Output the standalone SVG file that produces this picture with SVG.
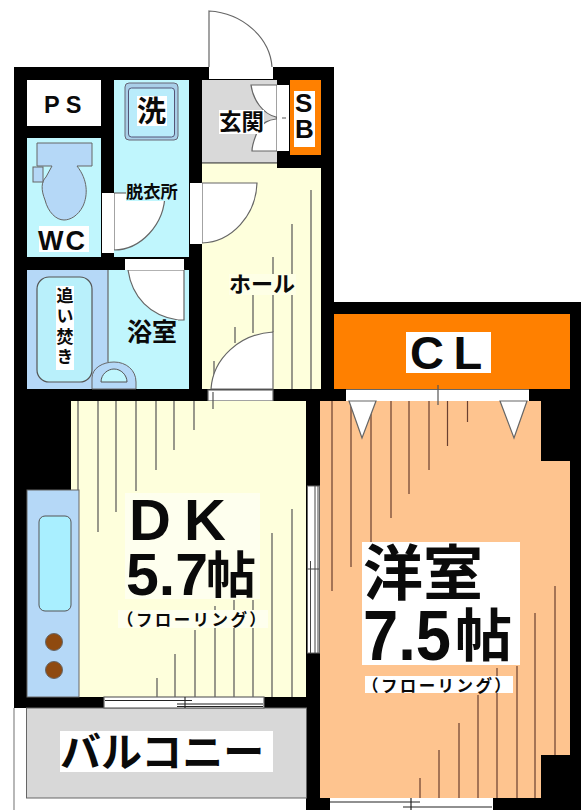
<svg xmlns="http://www.w3.org/2000/svg" width="581" height="810" viewBox="0 0 581 810">
<style>
text{font-family:"Liberation Sans","Noto Sans CJK JP",sans-serif;font-weight:700;fill:#0a0a0a}
.j{font-family:"Noto Sans CJK JP","Liberation Sans",sans-serif}
.s{font-size:16.500px;letter-spacing:2.400px}
.w{fill:#fff}.k{fill:#000}
.o{fill:none;stroke:#555;stroke-width:1.2}
.d{fill:#fff;stroke:#666;stroke-width:1.2}
.h{stroke:#555;stroke-width:1.2;fill:none}
.p{stroke:#6a4030;stroke-width:1.2;fill:none}
.b{fill:#b5d8f7;stroke:#666;stroke-width:1}
</style>
<rect width="581" height="810" fill="#fff"/>
<g id="walls">
<rect class="k" x="14" y="67" width="320" height="334"/>
<rect class="k" x="14" y="389" width="306" height="101"/>
<rect class="k" x="320" y="302" width="261" height="508"/>
<rect class="k" x="306" y="389" width="14" height="421"/>
<rect class="k" x="14" y="697" width="292" height="11"/>
<rect class="k" x="14" y="490" width="13" height="207"/>
<path d="M14 708V810" stroke="#888" stroke-width="1.2"/>
</g>
<g id="ps"><rect class="w" x="27" y="80" width="74" height="46"/><text x="44" y="113" font-size="23.500" letter-spacing="6">PS</text></g>
<g id="wc">
<rect x="27" y="138" width="74" height="119" fill="#c0f6fd"/>
<path class="b" d="M37 143H92V166H77C88 180 88 195 83 206C78 216 70 220 64 220C56 220 48 212 45 200C41 190 41 182 46 177L52 166H37Z"/>
<rect class="b" x="33" y="167" width="10" height="15"/>
<rect class="w" x="39" y="226" width="50" height="26"/>
<text x="38" y="250" font-size="27" letter-spacing="2">WC</text>
</g>
<g id="wash">
<rect x="114" y="80" width="75" height="177" fill="#c0f6fd"/>
<rect x="125" y="83" width="53" height="57" rx="4" fill="#a9cfe8" stroke="#667"/>
<rect x="128.500" y="88" width="46" height="49" rx="3" fill="#b9ecfb" stroke="#557"/>
<rect class="w" x="137" y="96" width="30" height="30"/>
<text class="j" x="137" y="122" font-size="29">洗</text>
<path class="d" d="M114 193V250C140 250 165 225 165 193"/>
<rect class="w" x="102" y="193" width="12" height="60"/>
<rect x="126" y="183" width="52" height="18" fill="#c0f6fd"/>
<path d="M114 193H126" stroke="#555"/>
<text class="j" x="126" y="198" font-size="17.300" font-weight="500">脱衣所</text>
</g>
<g id="entrance">
<rect x="202" y="80" width="75" height="82" fill="#d9d9d9"/>
<rect x="202" y="162" width="75" height="1.500" fill="#777"/>
<rect x="209" y="67" width="64" height="12" fill="#fff"/>
<path class="d" d="M209 67V11C243 13 270 38 272 67"/>
<path class="d" d="M277 85H251C253 100 263 114 276 117L277 118L276 119C268 120 264 122 258 130C255 138 252 144 252 151H277Z"/>
<rect class="w" x="277" y="85" width="12" height="66"/>
<path d="M282 118H286" stroke="#555"/>
<rect class="w" x="219" y="110" width="45" height="24"/>
<text class="j" x="219" y="130" font-size="22.500">玄関</text>
</g>
<g id="sb">
<rect x="290" y="80" width="31" height="75" fill="#ff8000"/>
<rect class="w" x="294" y="91" width="21" height="56"/>
<text font-size="26"><tspan x="295" y="112">S</tspan><tspan x="295" y="138">B</tspan></text>
</g>
<g id="hall">
<path d="M202 163.500H277V168H321V389H202Z" fill="#feffdc"/>
<path class="h" d="M311 190V389M292 224V389M273 257V332M253 295V333M235 327V343M214 361V385"/>
<path class="d" d="M202 183H257C256 215 232 242 202 243Z"/>
<rect class="w" x="190" y="183" width="12" height="61"/>
<path class="d" d="M273 332V389H211C213 358 240 334 273 332Z"/>
<rect x="208" y="390" width="65" height="11" class="d"/>
<rect x="229" y="274" width="67" height="21" fill="#feffe6"/>
<text class="j" x="229" y="292" font-size="22">ホール</text>
</g>
<g id="bath">
<rect x="27" y="270" width="162" height="119" fill="#c0f6fd"/>
<rect x="27" y="270" width="81" height="119" fill="#b5d8f7"/>
<path d="M108 270V362" stroke="#666" stroke-width="1.200"/>
<rect x="37" y="277" width="55" height="105" rx="12" fill="#b9f0fb" stroke="#555" stroke-width="1.200"/>
<rect class="w" x="56" y="286" width="18" height="84"/>
<text class="j" x="65" y="287" font-size="17" letter-spacing="3.300" style="writing-mode:vertical-rl">追い焚き</text>
<path class="b" d="M92 389V378C92 368 103 362 114 362C126 362 136 370 136 382V389Z"/>
<path d="M101 382C101 374 108 369 114 369C121 369 127 375 127 382Z" fill="#c0f6fd" stroke="#555"/>
<path class="d" d="M128 270H184V320H178C150 316 132 297 128 270"/>
<rect class="w" x="125" y="259" width="59" height="11"/>
<rect x="126" y="320" width="52" height="25" fill="#c0f6fd"/>
<text class="j" x="127" y="341" font-size="25">浴室</text>
</g>
<g id="dk">
<rect x="71" y="401" width="235" height="296" fill="#feffdc"/>
<path class="h" d="M78 401V490M98 401V532M116 401V512M136 401V491M156 401V470M174 401V450M194 401V430M213 392V409M292 509V697M272 533V697M253 600V697M234 600V697M215 606V697M195 630V697M175 654V697M157 678V697"/>
<rect x="125" y="493" width="135" height="106" fill="#feffee"/>
<text x="129" y="540" font-size="58" letter-spacing="13">DK</text>
<text x="126" y="595" font-size="59">5.7</text>
<text class="j" x="206" y="593" font-size="50">帖</text>
<rect x="118" y="610" width="150" height="18" fill="#feffee"/>
<text class="j s" x="117" y="626">（フローリング）</text>
</g>
<g id="kitchen">
<rect x="27" y="490" width="52" height="207" class="b"/>
<rect x="39" y="516" width="32" height="95" rx="6" fill="#a9efff" stroke="#555"/>
<circle cx="54" cy="642" r="8.500" fill="#8f4a10" stroke="#666"/>
<circle cx="54" cy="670" r="8.500" fill="#8f4a10" stroke="#666"/>
</g>
<g id="balcony">
<rect x="26.500" y="708" width="280" height="90" fill="#d8d8d8" stroke="#666"/>
<rect class="w" x="60" y="731" width="213" height="41"/>
<text class="j" x="60" y="767" font-size="41">バルコニー</text>
<rect x="104" y="697" width="160" height="11" class="d"/>
<path d="M105 700.500H192M177 704H263M177 706.500H263M185 697V708" stroke="#222" stroke-width="1.100"/>
</g>
<g id="western">
<path d="M320 401H541V461H570V755H541V798H320Z" fill="#fec48f"/>
<path class="p" d="M332 401V591M351 401V567M371 401V560M391 401V518M409 401V494M429 401V470M447.500 401V446M467.500 401V422M420 778V798M439 750V798M459 723V798M478 695V798M497 668V798M517 666V798M535 613V798M555 586V755"/>
<rect x="334" y="314" width="236" height="75" fill="#ff8000"/>
<rect class="w" x="406" y="332" width="85" height="41"/>
<text x="410" y="369" font-size="47" letter-spacing="9.500">CL</text>
<rect x="346" y="389.500" width="183" height="11.500" class="w"/>
<path d="M346 389.500H529" stroke="#666" stroke-width="1"/>
<path d="M438 385V405" stroke="#555" stroke-width="1.200"/>
<path class="d" d="M349 401H376L362 438ZM500 401H527L514 438Z"/>
<rect class="w" x="362" y="542" width="158" height="123"/>
<text class="j" x="363" y="595" font-size="60">洋室</text>
<text x="363" y="660" font-size="71" textLength="88" lengthAdjust="spacingAndGlyphs">7.5</text>
<text class="j" x="455" y="656" font-size="57">帖</text>
<rect class="w" x="365" y="676" width="148" height="17"/>
<text class="j s" x="362" y="692">（フローリング）</text>
<rect x="330" y="798" width="163" height="12" fill="#fff"/>
<path d="M330 802H420M403 807H492M411 798V810" stroke="#222" stroke-width="1.200"/>
</g>
<g id="sliding-window">
<rect x="307.500" y="486" width="12" height="167" fill="#fff" stroke="#666"/>
<path d="M315 486V653M318 486V653M307.500 569H319M310.500 561V653" stroke="#444" stroke-width="1"/>
</g>
</svg>
